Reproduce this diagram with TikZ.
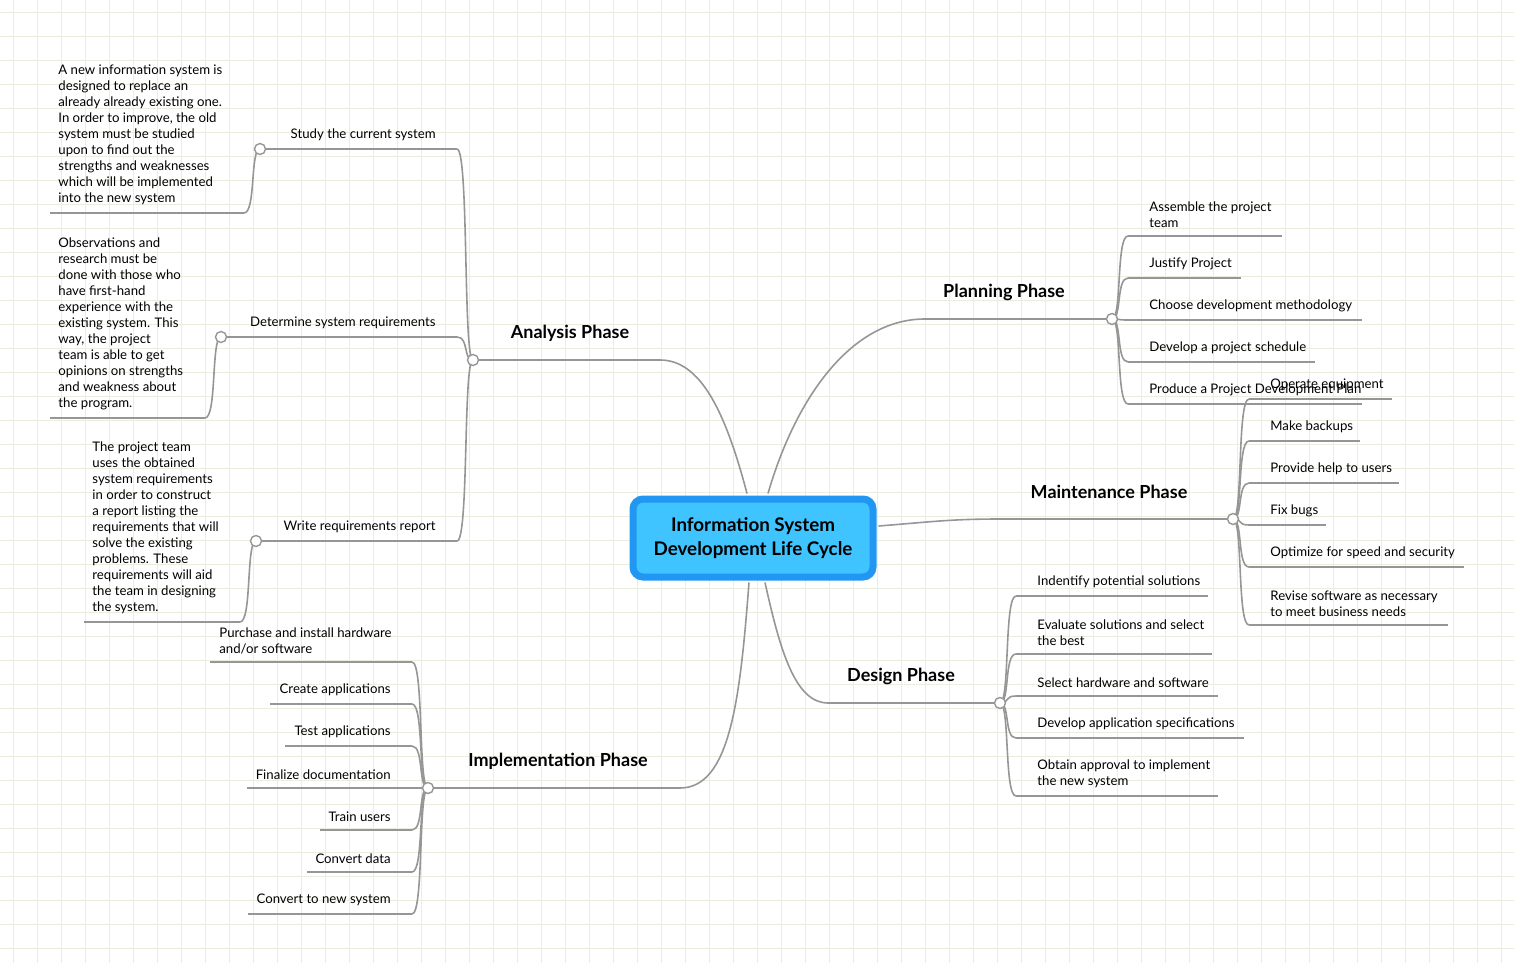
\documentclass[tikz,border=0pt]{standalone}
\usepackage{fontspec}
\setmainfont{Lato}
\usetikzlibrary{calc}
\definecolor{gridc}{RGB}{232,239,222}
\definecolor{linec}{RGB}{150,150,150}
\definecolor{rootfill}{RGB}{64,196,255}
\definecolor{rootdraw}{RGB}{33,150,243}
\tikzset{
  conn/.style={draw=linec, line width=0.8pt},
  hub/.style={circle, draw=linec, fill=white, line width=0.7pt, inner sep=0pt, minimum size=5.5pt},
  leaf/.style={inner sep=0pt, align=left, font=\fontsize{6.6}{8}\selectfont},
  phase/.style={inner sep=0pt, font=\fontsize{9}{11}\selectfont\bfseries},
}
% curve from a hub to the start of a leaf line (right side / left side)
\newcommand\rbranch[2]{\draw[conn] (#1) .. controls ($(#1)+(10,0)$) and ($(#1|-#2)+(4,0)$) .. (#2);}
\newcommand\lbranch[2]{\draw[conn] (#1) .. controls ($(#1)+(-10,0)$) and ($(#1|-#2)+(-4,0)$) .. (#2);}

\begin{document}
\begin{tikzpicture}[x=0.5pt, y=-0.5pt]
\useasboundingbox (0,0) rectangle (1514,963);
\foreach \x in {13,37,...,1514} \draw[gridc, line width=0.4pt] (\x,0) -- (\x,963);
\foreach \y in {12,36,...,963} \draw[gridc, line width=0.4pt] (0,\y) -- (1514,\y);
% root
\node[draw=rootdraw, fill=rootfill, line width=3.5pt, rounded corners=5pt,
  minimum width=120pt, minimum height=39pt, align=center,
  font=\fontsize{9.4}{12}\selectfont\bfseries] (root) at (753,538)
  {Information System\\Development Life Cycle};
% phases
\coordinate (planS) at (925,319);
\coordinate (anaE) at (660,360);
\coordinate (mainS) at (1000,519);
\coordinate (desS) at (828,703);
\coordinate (impE) at (680,788);
\node[phase] (planL) at (1004,292) {Planning Phase};
\node[phase] (anaL) at (570,333) {Analysis Phase};
\node[phase] (mainL) at (1109,492) {Maintenance Phase};
\node[phase] (desL) at (901,676) {Design Phase};
\node[phase] (impL) at (558,761) {Implementation Phase};
\coordinate (planH) at (1112,319);
\coordinate (mainH) at (1233,519);
\coordinate (desH) at (1000,703);
\coordinate (impH) at (428,788);
\coordinate (anaH) at (473,360);
\draw[conn] ($(root.north)+(15,-2)$) .. controls (795,400) and (850,319) .. (planS) -- (planH);
\draw[conn] ($(root.north)+(-6,-2)$) .. controls (725,410) and (700,360) .. (anaE) -- (anaH);
\draw[conn] ($(root.east)+(2,-12)$) .. controls (930,522) and (950,519) .. (mainS) -- (mainH);
\draw[conn] ($(root.south)+(12,2)$) .. controls (780,650) and (795,703) .. (desS) -- (desH);
\draw[conn] ($(root.south)+(-4,2)$) .. controls (740,700) and (730,788) .. (impE) -- (impH);
% planning leaves
\foreach \n/\y/\e/\t in {1/236/1282/{Assemble the project\\team}, 2/278/1241/{Justify Project},
  3/320/1362/{Choose development methodology}, 4/362/1315/{Develop a project schedule},
  5/404/1362/{Produce a Project Development Plan}}{
  \coordinate (plan\n) at (1128,\y);
  \rbranch{planH}{plan\n}
  \draw[conn] (plan\n) -- (\e,\y);
  \node[leaf, anchor=south west] (planT\n) at (1149,\y-8) {\t};
}
% maintenance leaves
\foreach \n/\y/\e/\t in {1/399/1392/{Operate equipment}, 2/441/1360/{Make backups},
  3/483/1399/{Provide help to users}, 4/525/1326/{Fix bugs},
  5/567/1464/{Optimize for speed and security},
  6/625/1448/{Revise software as necessary\\to meet business needs}}{
  \coordinate (main\n) at (1249,\y);
  \rbranch{mainH}{main\n}
  \draw[conn] (main\n) -- (\e,\y);
  \node[leaf, anchor=south west] (mainT\n) at (1270,\y-8) {\t};
}
% design leaves
\foreach \n/\y/\e/\t in {1/596/1208/{Indentify potential solutions},
  2/654/1212/{Evaluate solutions and select\\the best}, 3/696/1218/{Select hardware and software},
  4/738/1244/{Develop application specifications},
  5/796/1218/{Obtain approval to implement\\the new system}}{
  \coordinate (des\n) at (1016,\y);
  \rbranch{desH}{des\n}
  \draw[conn] (des\n) -- (\e,\y);
  \node[leaf, anchor=south west] (desT\n) at (1037,\y-8) {\t};
}
% implementation leaves
\foreach \n/\y/\e/\t in {2/704/270/{Create applications}, 3/746/285/{Test applications},
  4/788/247/{Finalize documentation}, 5/830/320/{Train users},
  6/872/307/{Convert data}, 7/914/248/{Convert to new system}}{
  \coordinate (imp\n) at (412,\y);
  \lbranch{impH}{imp\n}
  \draw[conn] (imp\n) -- (\e,\y);
  \node[leaf, anchor=south east] (impT\n) at (391,\y-8) {\t};
}
\coordinate (imp1) at (412,662);
\lbranch{impH}{imp1}
\draw[conn] (imp1) -- (210,662);
\node[leaf, anchor=south west] (impT1) at (219,654) {Purchase and install hardware\\and/or software};
% analysis leaves
\foreach \n/\y/\h/\t in {1/149/260/{Study the current system}, 2/337/221/{Determine system requirements},
  3/541/256/{Write requirements report}}{
  \coordinate (ana\n) at (457,\y);
  \lbranch{anaH}{ana\n}
  \coordinate (anaH\n) at (\h,\y);
  \draw[conn] (ana\n) -- (anaH\n);
  \node[leaf, anchor=south east] (anaT\n) at (436,\y-8) {\t};
}
\foreach \n/\s/\y/\e/\x/\t in {
  1/244/213/50/58/{A new information system is\\designed to replace an\\already already existing one.\\In order to improve, the old\\system must be studied\\upon to find out the\\strengths and weaknesses\\which will be implemented\\into the new system},
  2/205/418/50/58/{Observations and\\research must be\\done with those who\\have first-hand\\experience with the\\existing system. This\\way, the project\\team is able to get\\opinions on strengths\\and weakness about\\the program.},
  3/240/622/84/92/{The project team\\uses the obtained\\system requirements\\in order to construct\\a report listing the\\requirements that will\\solve the existing\\problems. These\\requirements will aid\\the team in designing\\the system.}}{
  \coordinate (det\n) at (\s,\y);
  \lbranch{anaH\n}{det\n}
  \draw[conn] (det\n) -- (\e,\y);
  \node[leaf, anchor=south west] (detT\n) at (\x,\y-8) {\t};
}
% hub circles on top
\foreach \h in {planH, mainH, desH, impH, anaH, anaH1, anaH2, anaH3}
  \node[hub] (c\h) at (\h) {};
\end{tikzpicture}
\end{document}
